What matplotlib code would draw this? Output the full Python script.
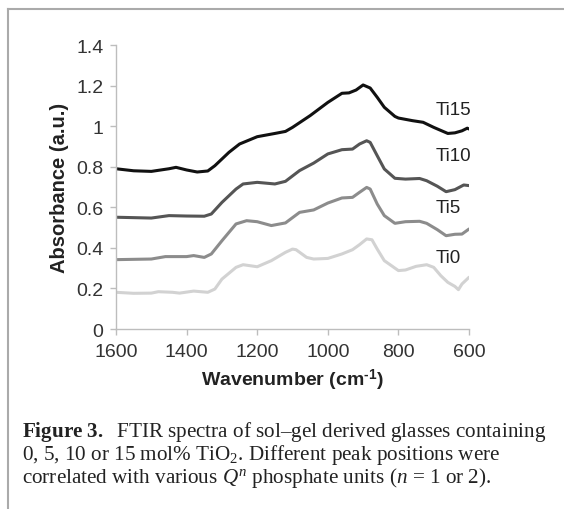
import numpy as np
import matplotlib
matplotlib.use("Agg")
import matplotlib.pyplot as plt
from matplotlib.lines import Line2D

plt.rcParams['font.family'] = ['Liberation Sans', 'DejaVu Sans']
plt.rcParams['mathtext.fontset'] = 'custom'
plt.rcParams['mathtext.rm'] = 'Liberation Serif'
plt.rcParams['mathtext.it'] = 'Liberation Serif:italic'
plt.rcParams['mathtext.bf'] = 'Liberation Serif:bold'
plt.rcParams['mathtext.sf'] = 'Liberation Sans:bold'

# --- data (wavenumber cm-1, absorbance a.u.) ---
wn_ti15 = [1600, 1550, 1500, 1450, 1430, 1400, 1370, 1340, 1320, 1300, 1280, 1250,
           1200, 1150, 1120, 1100, 1050, 1000, 960, 940, 920, 900, 880, 860, 840,
           810, 800, 760, 730, 700, 660, 640, 620, 605, 600]
ab_ti15 = [0.79, 0.78, 0.777, 0.79, 0.797, 0.784, 0.774, 0.779, 0.805, 0.838, 0.871, 0.912,
           0.948, 0.964, 0.974, 0.994, 1.052, 1.117, 1.162, 1.164, 1.178, 1.203, 1.188, 1.142, 1.093,
           1.048, 1.040, 1.027, 1.019, 0.994, 0.964, 0.967, 0.977, 0.99, 0.986]

wn_ti10 = [1600, 1500, 1450, 1400, 1350, 1330, 1300, 1260, 1240, 1200, 1150, 1120, 1080,
           1040, 1000, 960, 930, 910, 890, 880, 860, 840, 810, 780, 740, 720, 690, 665,
           640, 615, 600]
ab_ti10 = [0.551, 0.547, 0.559, 0.557, 0.556, 0.567, 0.624, 0.69, 0.715, 0.723, 0.715, 0.728, 0.781,
           0.818, 0.863, 0.884, 0.887, 0.912, 0.928, 0.92, 0.854, 0.789, 0.743, 0.739, 0.742, 0.731, 0.704, 0.677,
           0.687, 0.71, 0.707]

wn_ti5 = [1600, 1500, 1460, 1400, 1380, 1350, 1330, 1300, 1260, 1230, 1200, 1160, 1120,
          1080, 1040, 1000, 960, 930, 910, 890, 880, 860, 840, 810, 780, 740, 720, 690,
          665, 640, 620, 600]
ab_ti5 = [0.342, 0.345, 0.357, 0.357, 0.362, 0.353, 0.37, 0.435, 0.518, 0.534, 0.529, 0.51, 0.523,
          0.575, 0.587, 0.621, 0.646, 0.649, 0.674, 0.698, 0.69, 0.616, 0.559, 0.521, 0.529, 0.531, 0.521, 0.49,
          0.46, 0.467, 0.468, 0.493]

wn_ti0 = [1600, 1550, 1500, 1480, 1440, 1420, 1380, 1340, 1320, 1300, 1260, 1240, 1200,
          1160, 1120, 1100, 1090, 1060, 1040, 1000, 960, 930, 910, 890, 875, 860, 840,
          800, 780, 750, 720, 700, 680, 660, 640, 630, 620, 600]
ab_ti0 = [0.181, 0.176, 0.177, 0.184, 0.181, 0.177, 0.187, 0.181, 0.197, 0.246, 0.304, 0.317, 0.307,
          0.337, 0.378, 0.394, 0.391, 0.353, 0.345, 0.348, 0.37, 0.391, 0.416, 0.444, 0.44, 0.394, 0.337,
          0.288, 0.291, 0.309, 0.317, 0.304, 0.263, 0.23, 0.21, 0.194, 0.222, 0.255]

names = ['Ti15', 'Ti10', 'Ti5', 'Ti0']
label_y = [1.084, 0.855, 0.597, 0.353]
colors = ['#111111', '#555555', '#8c8c8c', '#d2d2d2']

fig = plt.figure(figsize=(5.64, 5.10), dpi=100)
ax = fig.add_axes([0.2057, 0.3529, 0.6259, 0.5569])

series = [(wn_ti15, ab_ti15), (wn_ti10, ab_ti10), (wn_ti5, ab_ti5), (wn_ti0, ab_ti0)]
for (wn, ab), name, c, ly in zip(series, names, colors, label_y):
    ax.plot(wn, ab, color=c, lw=2.2, solid_capstyle='round', solid_joinstyle='round')
    ax.text(694, ly, name, fontsize=13.5, color='#222222', va='center', ha='left')

ax.set_xlim(1600, 600)
ax.set_ylim(0, 1.4)
ax.set_xticks([1600, 1400, 1200, 1000, 800, 600])
ax.set_yticks([0, 0.2, 0.4, 0.6, 0.8, 1.0, 1.2, 1.4])
ax.set_yticklabels(['0', '0.2', '0.4', '0.6', '0.8', '1', '1.2', '1.4'])
for s in ['top', 'right']:
    ax.spines[s].set_visible(False)
for s in ['left', 'bottom']:
    ax.spines[s].set_color('#bdbdbd')
    ax.spines[s].set_linewidth(1.0)
ax.tick_params(colors='#bdbdbd', labelcolor='#333333', labelsize=14, length=4, width=1.0)
ax.tick_params(axis='x', pad=6)
ax.tick_params(axis='y', pad=5)
ax.set_xlabel('Wavenumber (cm$^{\\mathsf{\u2010}\\mathsf{1}}$)', fontsize=14, fontweight='bold',
              color='#222222', labelpad=5)
ax.set_ylabel('Absorbance (a.u.)', fontsize=14.5, fontweight='bold', color='#222222', labelpad=5)

# frame lines (left + top) around the figure panel
fig.add_artist(Line2D([8/564, 8/564], [0, 1 - 10/510], color='#aaaaaa', lw=1.5, transform=fig.transFigure))
fig.add_artist(Line2D([8/564, 1], [1 - 10/510, 1 - 10/510], color='#aaaaaa', lw=1.5, transform=fig.transFigure))

# caption
cap = (r'$\mathbf{Figure\ 3.}$  FTIR spectra of sol–gel derived glasses containing' + '\n'
       r'0, 5, 10 or 15 mol% TiO$_2$. Different peak positions were' + '\n'
       r'correlated with various $Q^n$ phosphate units ($n$ = 1 or 2).')
fig.text(22/564, 1 - 420/510, cap, fontsize=15.2, family='Liberation Serif',
         color='#222222', va='top', ha='left', linespacing=0.94)

fig.savefig('out.png', dpi=100)
